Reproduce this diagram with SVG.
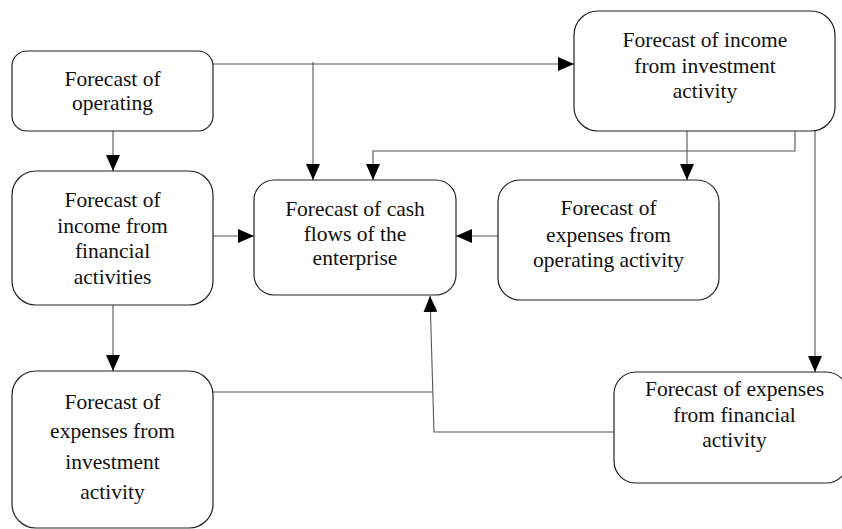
<svg xmlns="http://www.w3.org/2000/svg" width="842" height="529" viewBox="0 0 842 529">
<defs>
<style>
.box{fill:#fff;stroke:#222;stroke-width:1.2}
.c{fill:none;stroke:#555;stroke-width:1.1}
</style>
<marker id="ah" markerUnits="userSpaceOnUse" markerWidth="16" markerHeight="14" refX="16" refY="7" orient="auto">
<path d="M0,0 L16,7 L0,14 Z" fill="#000"/>
</marker>
</defs>
<rect width="842" height="529" fill="#fff"/>
<g id="connectors">
<path class="c" d="M213,64 L574,64" marker-end="url(#ah)"/>
<path class="c" d="M313,62 L313,180" marker-end="url(#ah)"/>
<path class="c" d="M795,131 L795,151 L373,151 L373,180" marker-end="url(#ah)"/>
<path class="c" d="M687,131 L687,180" marker-end="url(#ah)"/>
<path class="c" d="M815,131 L815,372" marker-end="url(#ah)"/>
<path class="c" d="M113,131 L113,171" marker-end="url(#ah)"/>
<path class="c" d="M213,236 L254,236" marker-end="url(#ah)"/>
<path class="c" d="M498,236 L456,236" marker-end="url(#ah)"/>
<path class="c" d="M113,305 L113,371" marker-end="url(#ah)"/>
<path class="c" d="M213,392 L433,392"/>
<path class="c" d="M614,432 L434,432 L430,296" marker-end="url(#ah)"/>
</g>
<g font-family="Liberation Serif" font-size="21.5" fill="#111" text-anchor="middle">
<g id="n-operating">
<rect class="box" x="12" y="51" width="201" height="80" rx="15"/>
<text x="112.5" y="86">Forecast of</text>
<text x="112.5" y="110">operating</text>
</g>
<g id="n-income-financial">
<rect class="box" x="12" y="171" width="201" height="134" rx="24"/>
<text x="112.5" y="207">Forecast of</text>
<text x="112.5" y="233">income from</text>
<text x="112.5" y="258">financial</text>
<text x="112.5" y="284">activities</text>
</g>
<g id="n-expenses-investment">
<rect class="box" x="12" y="371" width="201" height="157" rx="24"/>
<text x="112.5" y="409">Forecast of</text>
<text x="112.5" y="438">expenses from</text>
<text x="112.5" y="469">investment</text>
<text x="112.5" y="499">activity</text>
</g>
<g id="n-cashflows">
<rect class="box" x="254" y="180" width="202" height="115" rx="20"/>
<text x="355" y="216">Forecast of cash</text>
<text x="355" y="241">flows of the</text>
<text x="355" y="265">enterprise</text>
</g>
<g id="n-income-investment">
<rect class="box" x="574" y="11" width="261" height="120" rx="24"/>
<text x="705" y="47">Forecast of income</text>
<text x="705" y="73">from investment</text>
<text x="705" y="98">activity</text>
</g>
<g id="n-expenses-operating">
<rect class="box" x="498" y="180" width="221" height="120" rx="22"/>
<text x="608.5" y="215">Forecast of</text>
<text x="608.5" y="242">expenses from</text>
<text x="608.5" y="267">operating activity</text>
</g>
<g id="n-expenses-financial">
<rect class="box" x="614" y="372" width="234" height="111" rx="22"/>
<text x="734.5" y="396">Forecast of expenses</text>
<text x="734.5" y="422">from financial</text>
<text x="734.5" y="447">activity</text>
</g>
</g>
</svg>
